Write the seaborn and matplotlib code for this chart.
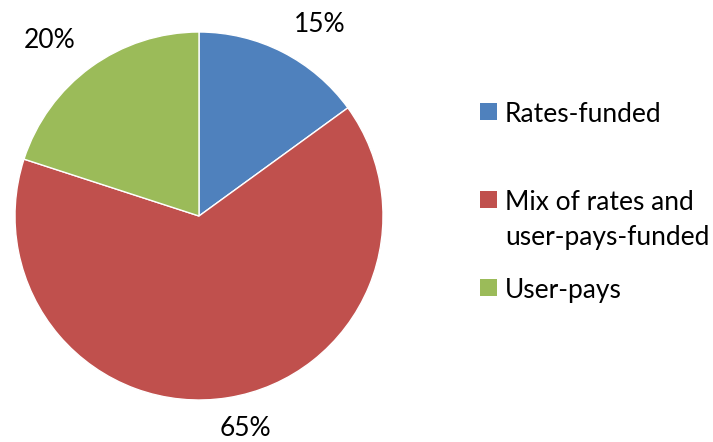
import matplotlib
matplotlib.use("Agg")
import matplotlib.pyplot as plt
from matplotlib.patches import Rectangle
import seaborn as sns

categories = ["Rates-funded", "Mix of rates and\nuser-pays-funded", "User-pays"]
shares = [15, 65, 20]
colors = ["#4F81BD", "#C0504D", "#9BBB59"]

sns.set_theme(style="white")
plt.rcParams["font.family"] = ["Lato", "DejaVu Sans"]

W, H = 713, 442
FS = 19
fig = plt.figure(figsize=(W / 100, H / 100), dpi=100)
ax = fig.add_axes([0, 0, 1, 1])

wedges, texts = ax.pie(
    shares,
    labels=[f"{v}%" for v in shares],
    colors=colors,
    startangle=90,
    counterclock=False,
    center=(199, H - 216),
    radius=184,
    labeldistance=1.22,
    frame=True,
    wedgeprops=dict(edgecolor="white", linewidth=1),
    textprops=dict(fontsize=FS, color="black"),
)
# data-label placement (pixels from top-left)
label_xy = [(320, 25), (245, 428), (50, 40)]
for t, (x, y) in zip(texts, label_xy):
    t.set_position((x, H - y))
    t.set_ha("center")
    t.set_va("center")

ax.set_xlim(0, W)
ax.set_ylim(0, H)
ax.set_aspect("equal")
ax.axis("off")

# legend: square marker beside the first line of each entry
legend_y = [112, 200, 288]
line_step = 35
for label, color, y in zip(categories, colors, legend_y):
    ax.add_patch(Rectangle((480, H - y - 8), 17, 17, facecolor=color, edgecolor="none"))
    for i, line in enumerate(label.split("\n")):
        ax.text(505, H - y - i * line_step, line, fontsize=FS,
                ha="left", va="center_baseline", color="black")

fig.savefig("out.png", dpi=100)
